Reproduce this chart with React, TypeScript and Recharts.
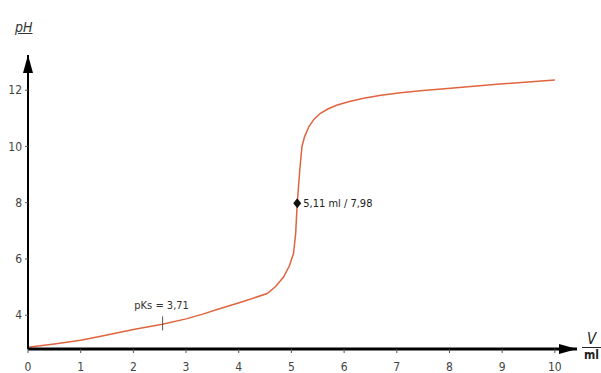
import { LineChart, Line, XAxis, YAxis, ReferenceDot } from "recharts"

// titration curve
const volume = [0, 0.5, 1, 1.5, 2, 2.55, 3, 3.3, 3.65, 4.1, 4.54, 4.7, 4.85, 4.96, 5.04, 5.08, 5.11, 5.16, 5.2, 5.25, 5.33, 5.43, 5.55, 5.7, 5.87, 6.1, 6.37, 6.7, 7.07, 7.5, 8.02, 8.9, 10]
const ph = [2.86, 2.98, 3.11, 3.3, 3.49, 3.68, 3.87, 4.03, 4.24, 4.5, 4.77, 5.02, 5.36, 5.75, 6.2, 6.9, 7.98, 9.2, 10.0, 10.35, 10.7, 10.97, 11.18, 11.34, 11.47, 11.6, 11.71, 11.82, 11.91, 11.99, 12.07, 12.21, 12.36]

const xTicks = [0, 1, 2, 3, 4, 5, 6, 7, 8, 9, 10]
const yTicks = [4, 6, 8, 10, 12]

const equivalence = [5.11, 7.98]
const equivalenceLabel = "5,11 ml / 7,98"
const pKs = [2.555, 3.71]
const pKsLabel = "pKs = 3,71"

const data = volume.map((v, i) => ({ v, ph: ph[i] }))

const narrow = "'Liberation Sans Narrow', 'DejaVu Sans Condensed', sans-serif"

const Diamond = (props: any) => {
    const { cx, cy } = props
    return (
        <g>
            <polygon points={`${cx},${cy - 5} ${cx + 4},${cy} ${cx},${cy + 5} ${cx - 4},${cy}`} fill="#111" />
            <text x={cx + 6} y={cy + 4} fontSize={11} fontFamily={narrow} fill="#222">{equivalenceLabel}</text>
        </g>
    )
}

const PKsMark = (props: any) => {
    const { cx, cy } = props
    return (
        <g>
            <line x1={cx} x2={cx} y1={cy - 7} y2={cy + 7} stroke="#555" strokeWidth={1} />
            <text x={cx - 1} y={cy - 14} fontSize={11} fontFamily={narrow} fill="#333" textAnchor="middle">{pKsLabel}</text>
        </g>
    )
}

const tickStyle = { fontSize: 12, fontFamily: narrow, fill: "#444" }

const App = () => {
    return (
        <div style={{ position: "absolute", left: 0, top: 0, width: 601, height: 373, background: "#fff" }}>
            <LineChart width={601} height={373} data={data} margin={{ top: 55, right: 24, bottom: 23, left: 27 }}>
                <defs>
                    <marker id="arrowHead" markerUnits="userSpaceOnUse" markerWidth={20} markerHeight={10} refX={18} refY={5} orient="auto-start-reverse">
                        <path d="M0,0 L18,5 L0,10 z" fill="#000" />
                    </marker>
                </defs>
                <XAxis
                    type="number"
                    dataKey="v"
                    domain={[0, 10.42]}
                    ticks={xTicks}
                    height={1}
                    tickSize={4}
                    tickMargin={9}
                    tick={tickStyle}
                    tickLine={{ stroke: "#555" }}
                    axisLine={{ stroke: "#000", strokeWidth: 3, markerEnd: "url(#arrowHead)" }}
                    allowDataOverflow
                />
                <YAxis
                    type="number"
                    domain={[2.8, 13.25]}
                    ticks={yTicks}
                    width={1}
                    tickSize={3}
                    tickMargin={3}
                    tick={tickStyle}
                    tickLine={{ stroke: "#555" }}
                    axisLine={{ stroke: "#000", strokeWidth: 2, markerStart: "url(#arrowHead)" }}
                    allowDataOverflow
                />
                <Line type="linear" dataKey="ph" stroke="#e0643f" strokeWidth={1.5} dot={false} isAnimationActive={false} />
                <ReferenceDot x={pKs[0]} y={pKs[1]} shape={PKsMark} />
                <ReferenceDot x={equivalence[0]} y={equivalence[1]} shape={Diamond} />
            </LineChart>
            <div style={{ position: "absolute", left: 15, top: 19, fontSize: 14, fontStyle: "italic", fontFamily: narrow, color: "#333", textDecoration: "underline" }}>pH</div>
            <div style={{ position: "absolute", left: 582, top: 331, width: 19, textAlign: "center", fontFamily: narrow, color: "#222", lineHeight: "16px" }}>
                <div style={{ fontSize: 15, fontStyle: "italic", borderBottom: "1.5px solid #222" }}>V</div>
                <div style={{ fontSize: 12, fontWeight: "bold", lineHeight: "14px" }}>ml</div>
            </div>
        </div>
    )
}

export default App
